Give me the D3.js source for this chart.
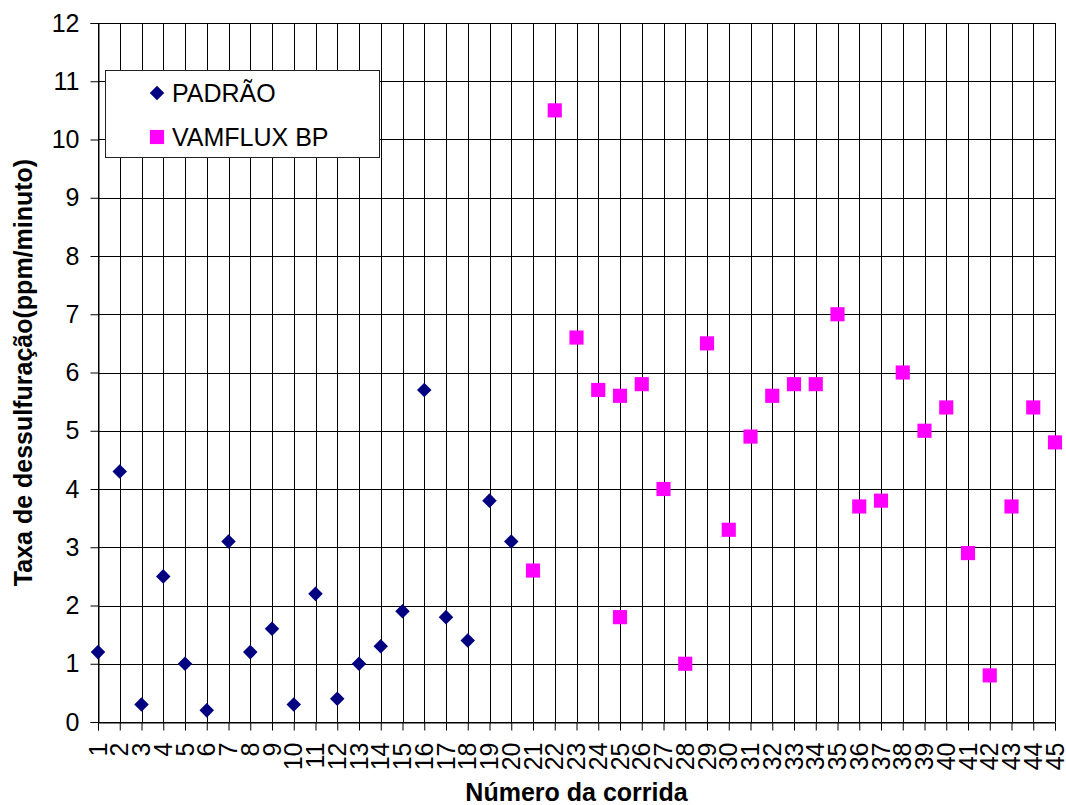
<!DOCTYPE html>
<html>
<head>
<meta charset="utf-8">
<script src="https://cdn.jsdelivr.net/npm/d3@7"></script>
<style>
  body { margin: 0; background: white; }
  text { font-family: Arial, "Liberation Sans", sans-serif; }
</style>
</head>
<body>
<div id="myVis"></div>
<script>
// run numbers and rates
var padraoRuns = [1, 2, 3, 4, 5, 6, 7, 8, 9, 10, 11, 12, 13, 14, 15, 16, 17, 18, 19, 20];
var padraoRate = [1.2, 4.3, 0.3, 2.5, 1.0, 0.2, 3.1, 1.2, 1.6, 0.3, 2.2, 0.4, 1.0, 1.3, 1.9, 5.7, 1.8, 1.4, 3.8, 3.1];

var vamfluxRuns = [21, 22, 23, 24, 25, 25, 26, 27, 28, 29, 30, 31, 32, 33, 34, 35, 36, 37, 38, 39, 40, 41, 42, 43, 44, 45];
var vamfluxRate = [2.6, 10.5, 6.6, 5.7, 5.6, 1.8, 5.8, 4.0, 1.0, 6.5, 3.3, 4.9, 5.6, 5.8, 5.8, 7.0, 3.7, 3.8, 6.0, 5.0, 5.4, 2.9, 0.8, 3.7, 5.4, 4.8];

var xTicks = d3.range(1, 46);
var yTicks = [0, 1, 2, 3, 4, 5, 6, 7, 8, 9, 10, 11, 12];
var seriesNames = ["PADRÃO", "VAMFLUX BP"];

var width = 1066;
var height = 805;
// plot area (note: "top" is taken by window.top, so plotTop etc.)
var plotLeft = 98, plotRight = 1055, plotTop = 23, plotBottom = 722;

var svg = d3
  .select("#myVis")
  .append("svg")
  .attr("width", width)
  .attr("height", height);

var x = d3.scaleLinear().domain([1, 45]).range([plotLeft, plotRight]);
var y = d3.scaleLinear().domain([0, 12]).range([plotBottom, plotTop]);

// grid
svg.append("g")
  .selectAll("line")
  .data(xTicks)
  .enter()
  .append("line")
  .attr("x1", d => Math.round(x(d)) + 0.5)
  .attr("x2", d => Math.round(x(d)) + 0.5)
  .attr("y1", plotTop)
  .attr("y2", plotBottom)
  .attr("stroke", "#000")
  .attr("stroke-width", 1);

svg.append("g")
  .selectAll("line")
  .data(yTicks)
  .enter()
  .append("line")
  .attr("x1", plotLeft)
  .attr("x2", plotRight)
  .attr("y1", d => Math.round(y(d)) + 0.5)
  .attr("y2", d => Math.round(y(d)) + 0.5)
  .attr("stroke", "#000")
  .attr("stroke-width", 1);

// axes
var yAxis = svg.append("g")
  .attr("transform", "translate(" + (plotLeft + 0.5) + ",0)")
  .call(d3.axisLeft(y).tickValues(yTicks).tickSize(8).tickPadding(11).tickFormat(d3.format("d")));
yAxis.select(".domain").attr("stroke", "#000");
yAxis.selectAll(".tick line").attr("stroke", "#000");
yAxis.selectAll("text")
  .style("font-size", "25px")
  .attr("fill", "#000");

var xAxis = svg.append("g")
  .attr("transform", "translate(0," + (plotBottom + 0.5) + ")")
  .call(d3.axisBottom(x).tickValues(xTicks).tickSize(8).tickFormat(d3.format("d")));
xAxis.select(".domain").attr("stroke", "#000");
xAxis.selectAll(".tick line").attr("stroke", "#000");
xAxis.selectAll("text")
  .style("font-size", "25px")
  .attr("fill", "#000")
  .attr("text-anchor", "end")
  .attr("transform", "rotate(-90)")
  .attr("x", -20)
  .attr("y", 0)
  .attr("dy", "0.32em");

// markers
var diamond = d3.symbol().type(d3.symbolDiamond2).size(135);
var square = d3.symbol().type(d3.symbolSquare).size(200);

svg.append("g")
  .selectAll("path")
  .data(padraoRuns)
  .enter()
  .append("path")
  .attr("d", diamond)
  .attr("transform", (d, i) => "translate(" + x(d) + "," + y(padraoRate[i]) + ")")
  .attr("fill", "#000080");

svg.append("g")
  .selectAll("path")
  .data(vamfluxRuns)
  .enter()
  .append("path")
  .attr("d", square)
  .attr("transform", (d, i) => "translate(" + x(d) + "," + y(vamfluxRate[i]) + ")")
  .attr("fill", "#ff00ff");

// legend
var legend = svg.append("g");
legend.append("rect")
  .attr("x", 105.5)
  .attr("y", 70.5)
  .attr("width", 274)
  .attr("height", 87)
  .attr("fill", "white")
  .attr("stroke", "#222")
  .attr("stroke-width", 1);
legend.append("path")
  .attr("d", diamond)
  .attr("transform", "translate(157,93)")
  .attr("fill", "#000080");
legend.append("path")
  .attr("d", square)
  .attr("transform", "translate(157,137)")
  .attr("fill", "#ff00ff");
legend.append("text")
  .attr("x", 172)
  .attr("y", 102)
  .style("font-size", "25px")
  .text(seriesNames[0]);
legend.append("text")
  .attr("x", 172)
  .attr("y", 146)
  .style("font-size", "25px")
  .text(seriesNames[1]);

// axis titles
svg.append("text")
  .attr("x", (plotLeft + plotRight) / 2)
  .attr("y", 801)
  .attr("text-anchor", "middle")
  .style("font-size", "25px")
  .style("font-weight", "bold")
  .text("Número da corrida");

svg.append("text")
  .attr("transform", "translate(32," + ((plotTop + plotBottom) / 2) + ") rotate(-90)")
  .attr("text-anchor", "middle")
  .style("font-size", "25px")
  .style("font-weight", "bold")
  .text("Taxa de dessulfuração(ppm/minuto)");
</script>
</body>
</html>
